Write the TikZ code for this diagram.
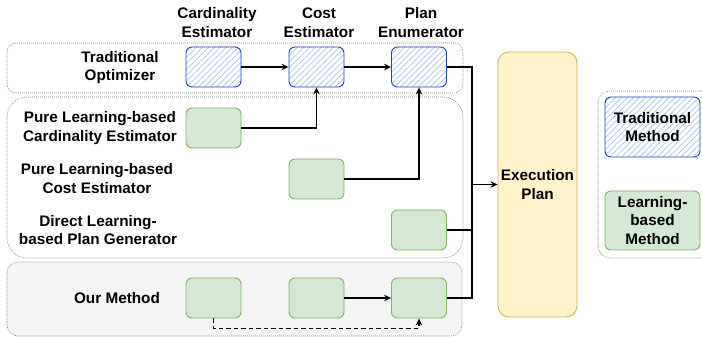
\documentclass[tikz,border=0pt]{standalone}
\usepackage{fontspec}
\setmainfont{Liberation Sans}
\usetikzlibrary{patterns.meta,arrows.meta}
\definecolor{tradborder}{HTML}{1F3FCC}
\definecolor{hatch}{HTML}{A9C4EB}
\definecolor{greenfill}{HTML}{D5E8D4}
\definecolor{greenborder}{HTML}{82B366}
\definecolor{yelfill}{HTML}{FFF2CC}
\definecolor{yelborder}{HTML}{D6B656}
\definecolor{grpgray}{HTML}{8A8A8A}
\definecolor{grpfill}{HTML}{F5F5F5}
\tikzset{
  lbl/.style={font=\fontsize{15.3}{18.5}\selectfont\bfseries, align=center, inner sep=0pt},
  tradbox/.style={draw=tradborder, line width=0.9pt, rounded corners=6pt,
     pattern={Lines[angle=45,distance=4.2pt,line width=0.7pt]}, pattern color=hatch,
     minimum width=55pt, minimum height=40pt, inner sep=0pt},
  learnbox/.style={draw=greenborder, fill=greenfill, line width=0.9pt, rounded corners=6pt,
     minimum width=55pt, minimum height=40pt, inner sep=0pt},
  grp/.style={draw=grpgray, line width=0.6pt, dash pattern=on 1pt off 1pt},
  conn/.style={draw=black, line width=1.4pt},
  arr/.style={conn, -{Stealth[length=7pt,width=6.5pt]}},
}
\begin{document}
\begin{tikzpicture}[x=1pt,y=-1pt]
\useasboundingbox (0,0) rectangle (702,339);
% groups
\draw[grp, rounded corners=9pt] (7,43) rectangle (463,93);
\draw[grp, rounded corners=20pt] (7,97) rectangle (463,258);
\draw[grp, fill=grpfill, rounded corners=11pt] (7,262) rectangle (462,336);
\begin{scope}
\clip (0,0) rectangle (702,339);
\draw[grp, rounded corners=12pt] (598,91) rectangle (720,258);
\end{scope}
% column labels
\node[lbl] (lc) at (217,22.5) {Cardinality\\Estimator};
\node[lbl] (lk) at (319,22.5) {Cost\\Estimator};
\node[lbl] (lp) at (421,22.5) {Plan\\Enumerator};
% row labels
\node[lbl] (r1) at (120,67.5) {Traditional\\Optimizer};
\node[lbl] (r2) at (100,128) {Pure Learning-based\\Cardinality Estimator};
\node[lbl] (r3) at (97,178.5) {Pure Learning-based\\Cost Estimator};
\node[lbl] (r4) at (98,230) {Direct Learning-\\based Plan Generator};
\node[lbl] (r5) at (117,298) {Our Method};
% traditional boxes
\node[tradbox] (t1) at (213.5,67) {};
\node[tradbox] (t2) at (316.5,67) {};
\node[tradbox] (t3) at (419,67) {};
% learning boxes
\node[learnbox] (g1) at (213.5,128) {};
\node[learnbox] (g2) at (316.5,179) {};
\node[learnbox] (g3) at (419,230) {};
% our method
\node[learnbox] (o1) at (213.5,298) {};
\node[learnbox] (o2) at (316.5,298) {};
\node[learnbox] (o3) at (419,298) {};
% execution plan
\node[draw=yelborder, fill=yelfill, line width=0.9pt, rounded corners=11pt,
      minimum width=79pt, minimum height=265pt, inner sep=0pt] (ep) at (537.5,184.5) {};
\node[lbl] (ept) at (537.5,184.5) {Execution\\Plan};
% legend
\node[tradbox, minimum width=95pt, minimum height=60pt] (lt) at (652.5,127) {};
\node[lbl] at (lt) {Traditional\\Method};
\node[learnbox, minimum width=95pt, minimum height=59pt] (ll) at (652.5,220.5) {};
\node[lbl] at (ll) {Learning-\\based\\Method};
% connectors
\draw[arr] (t1.east) -- (t2.west);
\draw[arr] (t2.east) -- (t3.west);
\draw[arr] (g1.east) -| (t2.south);
\draw[arr] (g2.east) -| (t3.south);
\draw[arr] (o2.east) -- (o3.west);
\coordinate (bt) at (472,67);
\coordinate (bb) at (472,298);
\draw[conn] (t3.east) -- (bt) -- (bb) -- (o3.east);
\draw[conn] (g3.east) -- (bt |- g3.east);
\draw[arr] (bt |- ep.west) -- (ep.west);
\draw[arr, dash pattern=on 4.5pt off 3pt] (o1.south) -- ++(0,10) -| (o3.south);
\end{tikzpicture}
\end{document}
